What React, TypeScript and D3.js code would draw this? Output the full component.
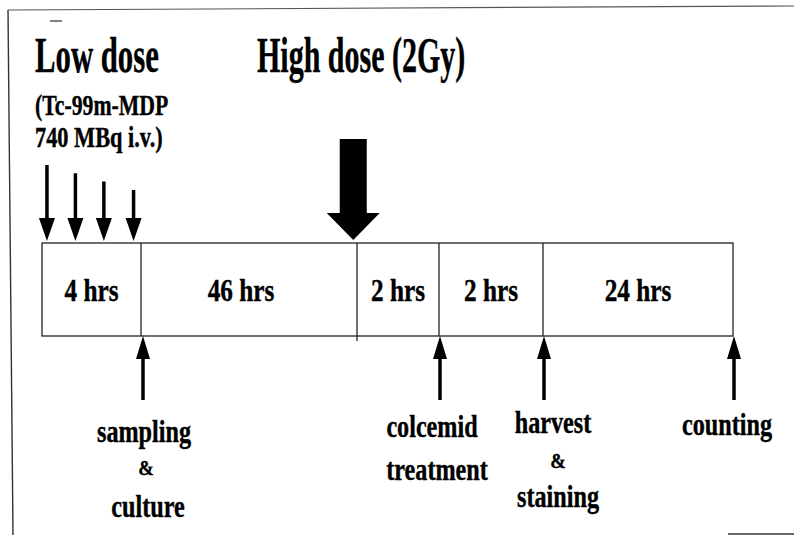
import * as d3 from 'd3';

// Timeline data
const segmentHours = [4, 46, 2, 2, 24];
const segmentLabels = ['4 hrs', '46 hrs', '2 hrs', '2 hrs', '24 hrs'];
const lowDoseHours = [0.2, 1.35, 2.5, 3.7];
const highDoseHour = 49.2;
const eventHours = [4, 52, 54, 78];
const eventLabels = [
  ['sampling', '&', 'culture'],
  ['colcemid', 'treatment'],
  ['harvest', '&', 'staining'],
  ['counting'],
];
const lowDoseTitle = ['Low dose', '(Tc-99m-MDP', '740 MBq i.v.)'];
const highDoseTitle = 'High dose (2Gy)';

const W = 794;
const H = 535;
const FONT = '"Liberation Serif", "Times New Roman", serif';

// cumulative hour boundaries -> piecewise (non-proportional) timeline scale
const bounds = [0, ...d3.cumsum(segmentHours)];
const x = d3.scaleLinear().domain(bounds).range([42, 141, 357, 439, 543, 733]);

const boxTop = 243;
const boxBottom = 336;

// per-line label layout (baseline, x offset from arrow)
const labelLayout = [
  [[442, 3], [475, 5], [517, 7]],
  [[437, -7], [480, -2]],
  [[433, 10], [468, 15], [507, 15]],
  [[435, -6]],
];

function arrowPath(cx: number, tail: number, tip: number, shaft: number, headW: number, headH: number) {
  const dir = tip > tail ? 1 : -1;
  const base = tip - dir * headH;
  const p = d3.path();
  p.moveTo(cx - shaft / 2, tail);
  p.lineTo(cx + shaft / 2, tail);
  p.lineTo(cx + shaft / 2, base);
  p.lineTo(cx + headW / 2, base);
  p.lineTo(cx, tip);
  p.lineTo(cx - headW / 2, base);
  p.lineTo(cx - shaft / 2, base);
  p.closePath();
  return p.toString();
}

function Label({ tx, ty, size, sx, anchor = 'middle', children }: any) {
  return (
    <text
      transform={`translate(${tx},${ty}) scale(${sx},1)`}
      textAnchor={anchor}
      fontSize={size}
      fontWeight="bold"
      fontFamily={FONT}
      fill="#000"
      stroke="#000"
      strokeWidth={0.4}
    >
      {children}
    </text>
  );
}

export default function App() {
  return (
    <svg width={W} height={H} style={{ position: 'absolute', left: 0, top: 0, background: '#fff' }}>
      <rect width={W} height={H} fill="#fff" />
      {/* frame */}
      <line x1={8} y1={10} x2={W} y2={6} stroke="#555" strokeWidth={1.2} />
      <line x1={8} y1={10} x2={13} y2={H} stroke="#333" strokeWidth={1.4} />
      <line x1={50} y1={21} x2={62} y2={21} stroke="#333" strokeWidth={1.2} />
      <line x1={728} y1={534} x2={W} y2={534} stroke="#333" strokeWidth={1.5} />

      {/* titles */}
      <Label tx={35} ty={72} size={50} sx={0.615} anchor="start">{lowDoseTitle[0]}</Label>
      <Label tx={35} ty={115} size={29} sx={0.75} anchor="start">{lowDoseTitle[1]}</Label>
      <Label tx={35} ty={147} size={29} sx={0.77} anchor="start">{lowDoseTitle[2]}</Label>
      <Label tx={257} ty={72} size={50} sx={0.6} anchor="start">{highDoseTitle}</Label>

      {/* timeline box */}
      <rect
        x={x(bounds[0])}
        y={boxTop}
        width={x(bounds[bounds.length - 1]) - x(bounds[0])}
        height={boxBottom - boxTop}
        fill="none"
        stroke="#222"
        strokeWidth={1.3}
      />
      {bounds.slice(1, -1).map((b, i) => (
        <line key={i} x1={x(b)} x2={x(b)} y1={boxTop} y2={boxBottom + (i === 1 ? 5 : 0)} stroke="#222" strokeWidth={1.3} />
      ))}
      {segmentLabels.map((s, i) => (
        <Label key={s + i} tx={(x(bounds[i]) + x(bounds[i + 1])) / 2 - (i === 1 ? 8 : 0)} ty={301} size={32} sx={0.79}>
          {s}
        </Label>
      ))}

      {/* low dose injections */}
      {lowDoseHours.map((h, i) => (
        <path key={i} d={arrowPath(x(h), 165 + i * 8.3, boxTop - 2, 3.5, 16, 23)} fill="#000" />
      ))}

      {/* high dose */}
      <path d={arrowPath(x(highDoseHour), 139, boxTop - 3, 27, 53, 27)} fill="#000" />

      {/* events */}
      {eventHours.map((h, i) => (
        <g key={i}>
          <path d={arrowPath(x(h) + (i === 0 ? 2 : 1), 400, boxBottom, 3.5, 14, 23)} fill="#000" />
          {eventLabels[i].map((t, j) => {
            const [by, dx] = labelLayout[i][j];
            const amp = t === '&';
            return (
              <Label key={j} tx={x(h) + dx} ty={by} size={amp ? 22 : 31} sx={amp ? 0.85 : 0.78}>
                {t}
              </Label>
            );
          })}
        </g>
      ))}
    </svg>
  );
}
